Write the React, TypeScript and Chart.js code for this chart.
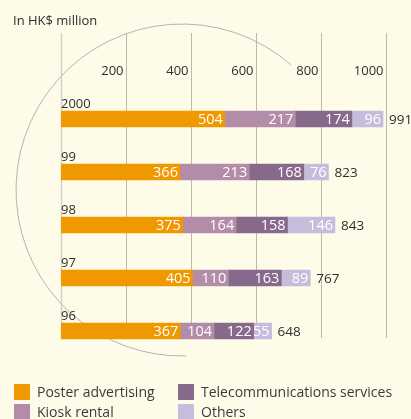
import React, { useEffect, useRef } from "react";
import { Chart, registerables } from "chart.js";

Chart.register(...registerables);

const categories = ["2000", "99", "98", "97", "96"];
const posterAdvertising = [504, 366, 375, 405, 367];
const kioskRental = [217, 213, 164, 110, 104];
const telecomServices = [174, 168, 158, 163, 122];
const others = [96, 76, 146, 89, 55];
const totals = [991, 823, 843, 767, 648];
const tickValues = [0, 200, 400, 600, 800, 1000];

const seriesNames = ["Poster advertising", "Kiosk rental", "Telecommunications services", "Others"];
const seriesColors = ["#f09800", "#b38ca9", "#876a8b", "#c7bcdc"];

const BG = "#fefce9";
const TEXT = "#2e2e2e";
const FONT = "'Open Sans', 'Noto Sans', sans-serif";

const decorPlugin = {
  id: "decor",
  beforeDraw(chart: any) {
    const { ctx, width, height } = chart;
    ctx.save();
    ctx.fillStyle = BG;
    ctx.fillRect(0, 0, width, height);
    // title
    ctx.fillStyle = TEXT;
    ctx.font = `13px ${FONT}`;
    ctx.textAlign = "left";
    ctx.textBaseline = "middle";
    ctx.fillText("In HK$ million", 13, 21);
    // gridlines
    const x = chart.scales.x;
    tickValues.forEach((v) => {
      const px = Math.round(x.getPixelForValue(v)) + 0.5;
      ctx.strokeStyle = v === 0 ? "#d6d3c6" : "#bbb8b0";
      ctx.lineWidth = v === 0 ? 1.5 : 1;
      ctx.beginPath();
      ctx.moveTo(px, 33);
      ctx.lineTo(px, 338);
      ctx.stroke();
      if (v !== 0) {
        ctx.fillStyle = TEXT;
        ctx.font = `13px ${FONT}`;
        ctx.textAlign = "right";
        ctx.textBaseline = "middle";
        ctx.fillText(String(v), px - 3, 71);
      }
    });
    // decorative arc
    ctx.strokeStyle = "#b3b3b3";
    ctx.lineWidth = 1;
    ctx.beginPath();
    ctx.arc(182, 190, 166, (-49 * Math.PI) / 180, (88.6 * Math.PI) / 180, true);
    ctx.stroke();
    ctx.restore();
  },
  afterDatasetsDraw(chart: any) {
    const { ctx } = chart;
    ctx.save();
    const x = chart.scales.x;
    // value labels
    chart.data.datasets.forEach((ds: any, di: number) => {
      const meta = chart.getDatasetMeta(di);
      meta.data.forEach((bar: any, i: number) => {
        ctx.fillStyle = "#ffffff";
        ctx.font = `14.5px ${FONT}`;
        ctx.textAlign = "right";
        ctx.textBaseline = "middle";
        ctx.fillText(String(ds.data[i]), bar.x - 2, bar.y + 1);
      });
    });
    // category labels and totals
    const meta0 = chart.getDatasetMeta(0);
    meta0.data.forEach((bar: any, i: number) => {
      ctx.fillStyle = TEXT;
      ctx.font = `13px ${FONT}`;
      ctx.textAlign = "left";
      ctx.textBaseline = "middle";
      ctx.fillText(categories[i], x.left, bar.y - bar.height / 2 - 7);
      ctx.font = `13.5px ${FONT}`;
      ctx.fillText(String(totals[i]), x.getPixelForValue(totals[i]) + 6, bar.y + 1);
    });
    // legend
    const order = [0, 2, 1, 3];
    order.forEach((di, k) => {
      const col = k % 2;
      const row = Math.floor(k / 2);
      const sx = col === 0 ? 14 : 178;
      const sy = 384 + row * 20;
      ctx.fillStyle = seriesColors[di];
      ctx.fillRect(sx, sy, 16, 16);
      ctx.fillStyle = "#3a3a3a";
      ctx.font = `14px ${FONT}`;
      ctx.textAlign = "left";
      ctx.textBaseline = "middle";
      ctx.fillText(seriesNames[di], sx + 23, sy + 9);
    });
    ctx.restore();
  },
};

export default function App() {
  const ref = useRef<HTMLCanvasElement>(null);
  useEffect(() => {
    if (!ref.current) return;
    const series = [posterAdvertising, kioskRental, telecomServices, others];
    const chart = new Chart(ref.current, {
      type: "bar",
      data: {
        labels: categories,
        datasets: series.map((d, i) => ({
          label: seriesNames[i],
          data: d,
          backgroundColor: seriesColors[i],
          borderWidth: 0,
          barThickness: 16,
        })),
      },
      options: {
        indexAxis: "y",
        responsive: false,
        animation: false,
        devicePixelRatio: 1,
        layout: { padding: { left: 61, right: 25, top: 92.5, bottom: 61.5 } },
        scales: {
          x: { stacked: true, min: 0, max: 1000, display: false },
          y: { stacked: true, display: false },
        },
        plugins: { legend: { display: false }, tooltip: { enabled: false } },
      },
      plugins: [decorPlugin],
    });
    return () => chart.destroy();
  }, []);
  return (
    <div style={{ position: "absolute", left: 0, top: 0, width: 411, height: 419 }}>
      <canvas ref={ref} width={411} height={419} style={{ width: 411, height: 419, display: "block" }} />
    </div>
  );
}
